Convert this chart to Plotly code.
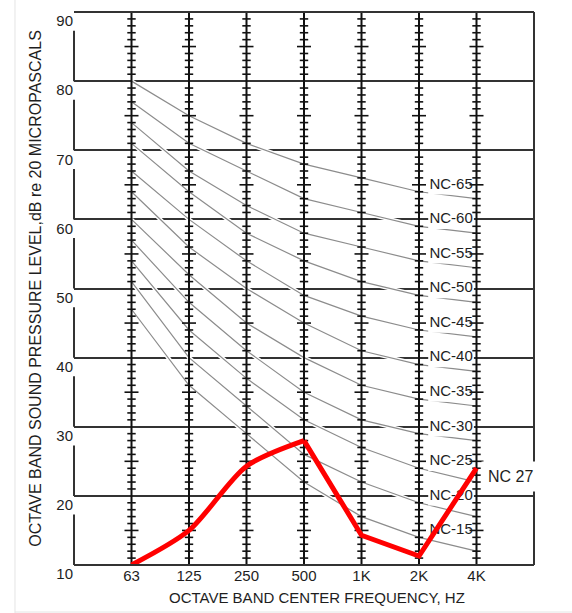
import plotly.graph_objects as go

# ---------------- data ----------------
bands = ["63", "125", "250", "500", "1K", "2K", "4K"]
band_pos = [1, 2, 3, 4, 5, 6, 7]
y_ticks = [10, 20, 30, 40, 50, 60, 70, 80, 90]

nc_labels = ["NC-65", "NC-60", "NC-55", "NC-50", "NC-45", "NC-40",
             "NC-35", "NC-30", "NC-25", "NC-20", "NC-15"]
nc_ratings = [65, 60, 55, 50, 45, 40, 35, 30, 25, 20, 15]
nc_65 = [80, 75, 71, 68, 66, 64, 63]
nc_60 = [77, 71, 67, 63, 61, 59, 58]
nc_55 = [74, 67, 62, 58, 56, 54, 53]
nc_50 = [71, 64, 58, 54, 51, 49, 48]
nc_45 = [67, 60, 54, 49, 46, 44, 43]
nc_40 = [64, 56, 50, 45, 41, 39, 38]
nc_35 = [60, 52, 45, 40, 36, 34, 33]
nc_30 = [57, 48, 41, 35, 31, 29, 28]
nc_25 = [54, 44, 37, 31, 27, 24, 22]
nc_20 = [51, 40, 33, 26, 22, 19, 17]
nc_15 = [47, 36, 29, 22, 17, 14, 12]
nc_curves = [nc_65, nc_60, nc_55, nc_50, nc_45, nc_40,
             nc_35, nc_30, nc_25, nc_20, nc_15]

measured = [10, 15, 24.3, 28, 14.3, 11.3, 24]
measured_label = "NC 27"

x_title = "OCTAVE BAND CENTER FREQUENCY, HZ"
y_title = "OCTAVE BAND SOUND PRESSURE LEVEL,dB re 20 MICROPASCALS"

# ---------------- style ----------------
FONT = "Arial, Liberation Sans, sans-serif"
TXT = "#1e1e1e"
GRID = "#333333"
Y0, Y1 = y_ticks[0], y_ticks[-1]
X0, X1 = 0, 8


def ypaper(v):
    return (v - Y0) / (Y1 - Y0)


fig = go.Figure()

# NC curves: white halo then gray line
hx, hy = [], []
for c in nc_curves:
    hx += band_pos + [None]
    hy += c + [None]
fig.add_trace(go.Scatter(x=hx, y=hy, mode="lines",
                         line=dict(color="white", width=4),
                         hoverinfo="skip", showlegend=False))
fig.add_trace(go.Scatter(x=hx, y=hy, mode="lines",
                         line=dict(color="#8c8c8c", width=1.2),
                         hoverinfo="skip", showlegend=False))

# white backgrounds of NC labels
lab_x0, lab_x1, lab_h = 6.16, 6.955, 1.4
bx, by = [], []
for r in nc_ratings:
    bx += [lab_x0, lab_x1, lab_x1, lab_x0, lab_x0, None]
    by += [r - lab_h, r - lab_h, r + lab_h, r + lab_h, r - lab_h, None]
fig.add_trace(go.Scatter(x=bx, y=by, mode="lines", fill="toself",
                         fillcolor="white", line=dict(width=0, color="white"),
                         hoverinfo="skip", showlegend=False))

# vertical band lines with 1 dB ticks
vx, vy = [], []
for p in band_pos:
    vx += [p, p, None]
    vy += [Y0, Y1, None]
fig.add_trace(go.Scatter(x=vx, y=vy, mode="lines",
                         line=dict(color="#111111", width=2),
                         hoverinfo="skip", showlegend=False))
sx, sy, lx, ly = [], [], [], []
for p in band_pos:
    for v in range(Y0 + 1, Y1):
        if v % 10 == 0:
            continue
        if v % 5 == 0:
            lx.append(p); ly.append(v)
        else:
            sx.append(p); sy.append(v)
fig.add_trace(go.Scatter(x=sx, y=sy, mode="markers",
                         marker=dict(symbol="line-ew", size=6,
                                     line=dict(color="#111111", width=1.6)),
                         hoverinfo="skip", showlegend=False))
fig.add_trace(go.Scatter(x=lx, y=ly, mode="markers",
                         marker=dict(symbol="line-ew", size=10,
                                     line=dict(color="#111111", width=1.6)),
                         hoverinfo="skip", showlegend=False))

# NC labels
fig.add_trace(go.Scatter(x=[(lab_x0 + lab_x1) / 2] * len(nc_ratings),
                         y=nc_ratings, mode="text", text=nc_labels,
                         textposition="middle center",
                         textfont=dict(family=FONT, size=15, color=TXT),
                         hoverinfo="skip", showlegend=False))

# measured spectrum (red)
fig.add_trace(go.Scatter(x=band_pos[:4], y=measured[:4], mode="lines",
                         line=dict(color="#ff0000", width=5, shape="spline",
                                   smoothing=0.8),
                         hoverinfo="skip", showlegend=False))
fig.add_trace(go.Scatter(x=band_pos[3:], y=measured[3:], mode="lines",
                         line=dict(color="#ff0000", width=5),
                         hoverinfo="skip", showlegend=False))

# frame lines
shapes = []
bl = dict(color=GRID, width=2)
shapes.append(dict(type="line", xref="paper", yref="paper", x0=0, x1=1, y0=1, y1=1, line=bl))
shapes.append(dict(type="line", xref="paper", yref="paper", x0=1, x1=1, y0=0, y1=1, line=bl))
shapes.append(dict(type="line", xref="paper", yref="paper", x0=0, x1=1, y0=0, y1=0, line=bl))
for v in y_ticks[:-1]:
    shapes.append(dict(type="line", xref="paper", yref="paper", x0=0, x1=0,
                       y0=ypaper(v), y1=ypaper(v + 7.3), line=bl))
# light outer frame of the screenshot
shapes.append(dict(type="line", xref="paper", yref="paper", x0=-0.1283, x1=-0.1283,
                   y0=-0.09, y1=1.03, line=dict(color="#e4e4e4", width=1)))
shapes.append(dict(type="line", xref="paper", yref="paper", x0=-0.1283, x1=1.09,
                   y0=-0.085, y1=-0.085, line=dict(color="#e4e4e4", width=1)))

fig.update_layout(
    width=572, height=613,
    margin=dict(l=74, r=38, t=12, b=48),
    paper_bgcolor="white", plot_bgcolor="white",
    showlegend=False,
    shapes=shapes,
    font=dict(family=FONT, color=TXT),
    xaxis=dict(range=[X0, X1], tickvals=band_pos, ticktext=bands,
               showgrid=False, zeroline=False, showline=False, ticks="",
               tickfont=dict(size=15, color=TXT),
               automargin=False, fixedrange=True),
    yaxis=dict(range=[Y0, Y1], tickvals=y_ticks,
               showgrid=True, gridcolor=GRID, gridwidth=2,
               zeroline=False, showline=False, ticks="",
               tickfont=dict(size=15, color=TXT), ticklabelshift=9,
               title=dict(text=y_title,
                          font=dict(size=16, color=TXT), standoff=10),
               automargin=False, fixedrange=True),
    annotations=[
        dict(x=7, y=22.8, xref="x", yref="y", text=measured_label,
             xanchor="left", xshift=4, showarrow=False,
             bgcolor="white", borderpad=6,
             font=dict(family=FONT, size=16, color=TXT)),
        dict(x=0.528, y=-0.058, xref="paper", yref="paper", text=x_title,
             xanchor="center", yanchor="middle", showarrow=False,
             font=dict(family=FONT, size=15, color=TXT)),
    ],
)

fig.write_html("out.html", config={"displayModeBar": False},
               post_script="document.body.style.margin='0';")
